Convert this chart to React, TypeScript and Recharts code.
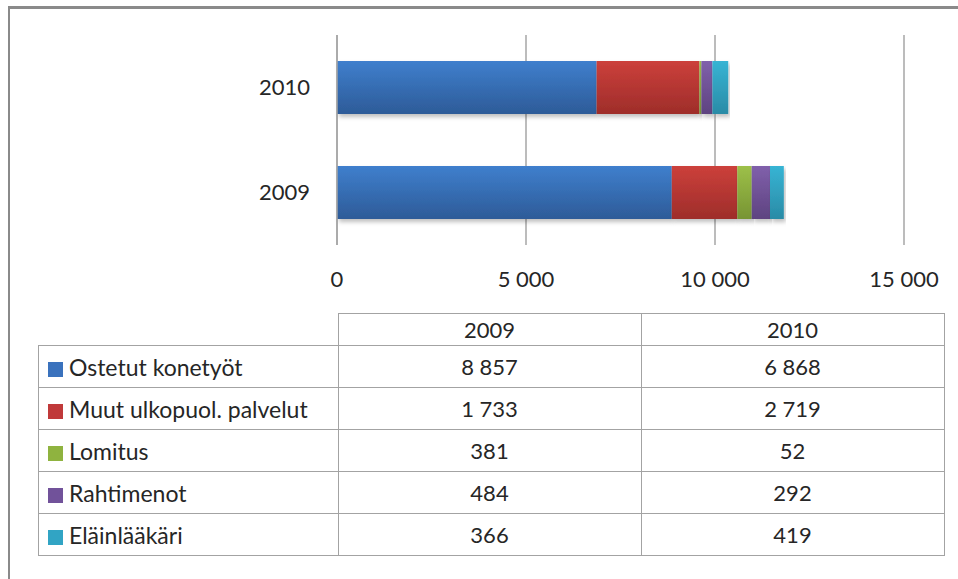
import { BarChart, Bar, XAxis, YAxis, CartesianGrid } from 'recharts'

const years = ['2009', '2010']
const seriesNames = [
  'Ostetut konetyöt',
  'Muut ulkopuol. palvelut',
  'Lomitus',
  'Rahtimenot',
  'Eläinlääkäri',
]
const ostetutKonetyot = [8857, 6868]
const muutPalvelut = [1733, 2719]
const lomitus = [381, 52]
const rahtimenot = [484, 292]
const elainlaakari = [366, 419]
const xTicks = [0, 5000, 10000, 15000]

const seriesValues = [ostetutKonetyot, muutPalvelut, lomitus, rahtimenot, elainlaakari]

// top / bottom colours of each bar gradient
const colors = [
  ['#3f7fcd', '#2d5b98'],
  ['#cc403b', '#9e2d2a'],
  ['#9dc049', '#779433'],
  ['#8060ab', '#5e4380'],
  ['#37b4d4', '#2a8ba6'],
]
const swatch = ['#3a72bd', '#c0393a', '#8fb33f', '#71529a', '#31a4c4']

const data = years.map((year, i) => {
  const row: Record<string, string | number> = { year }
  seriesNames.forEach((name, s) => {
    row[name] = seriesValues[s][i]
  })
  return row
})

function fmt(v: number) {
  return String(v).replace(/\B(?=(\d{3})+(?!\d))/g, '\u00a0')
}

const font = 'Lato, "Open Sans", sans-serif'
const border = '1.5px solid #a3a3a3'
const textColor = '#262626'

const cell: React.CSSProperties = {
  border,
  height: 41,
  padding: 0,
  textAlign: 'center',
  fontSize: 22,
  color: textColor,
}

export default function App() {
  return (
    <div style={{ position: 'absolute', left: 0, top: 0, width: 958, height: 579, background: '#fff', fontFamily: font, overflow: 'hidden' }}>
      <div
        style={{
          position: 'absolute',
          left: 8,
          top: 6,
          right: -10,
          bottom: -10,
          borderTop: '3px solid #8a8a8a',
          borderLeft: '2px solid #8a8a8a',
        }}
      />
      <div style={{ position: 'absolute', left: 0, top: 0 }}>
        <BarChart
          width={958}
          height={300}
          data={data}
          layout="vertical"
          margin={{ top: 35, right: 54, left: 0, bottom: 0 }}
          barSize={53}
        >
          <defs>
            {colors.map((c, i) => (
              <linearGradient key={i} id={`grad${i}`} x1="0" y1="0" x2="0" y2="1">
                <stop offset="0%" stopColor={c[0]} />
                <stop offset="100%" stopColor={c[1]} />
              </linearGradient>
            ))}
            <filter id="shadow" x="-5%" y="-20%" width="115%" height="150%">
              <feDropShadow dx="2" dy="3" stdDeviation="2" floodColor="#000" floodOpacity="0.25" />
            </filter>
          </defs>
          <CartesianGrid horizontal={false} stroke="#a6a6a6" strokeWidth={1.5} />
          <XAxis
            type="number"
            domain={[0, 15000]}
            ticks={xTicks}
            tickFormatter={fmt}
            axisLine={false}
            tickLine={false}
            tickSize={0}
            tickMargin={26}
            height={55}
            interval={0}
            tick={{ fill: textColor, fontSize: 22, fontFamily: font }}
          />
          <YAxis
            type="category"
            dataKey="year"
            reversed
            width={337}
            axisLine={{ stroke: '#a6a6a6', strokeWidth: 1.5 }}
            tickLine={false}
            tickSize={0}
            tickMargin={27}
            tick={{ fill: textColor, fontSize: 22, fontFamily: font }}
          />
          {seriesNames.map((name, i) => (
            <Bar
              key={name}
              dataKey={name}
              stackId="a"
              fill={`url(#grad${i})`}
              filter="url(#shadow)"
              isAnimationActive={false}
            />
          ))}
        </BarChart>
      </div>
      <table
        style={{
          position: 'absolute',
          left: 38,
          top: 313,
          borderCollapse: 'collapse',
          fontFamily: font,
        }}
      >
        <tbody>
          <tr>
            <td style={{ width: 299, padding: 0, border: 'none', borderRight: border, borderBottom: border }} />
            {years.map((y) => (
              <td key={y} style={{ ...cell, width: 302, height: 31 }}>
                {y}
              </td>
            ))}
          </tr>
          {seriesNames.map((name, s) => (
            <tr key={name}>
              <td style={{ ...cell, textAlign: 'left', paddingLeft: 9, whiteSpace: 'nowrap', fontSize: 23 }}>
                <span
                  style={{
                    display: 'inline-block',
                    width: 15,
                    height: 15,
                    background: swatch[s],
                    marginRight: 6,
                    verticalAlign: -1,
                  }}
                />
                {name}
              </td>
              {seriesValues[s].map((v, i) => (
                <td key={i} style={cell}>
                  {fmt(v)}
                </td>
              ))}
            </tr>
          ))}
        </tbody>
      </table>
    </div>
  )
}
